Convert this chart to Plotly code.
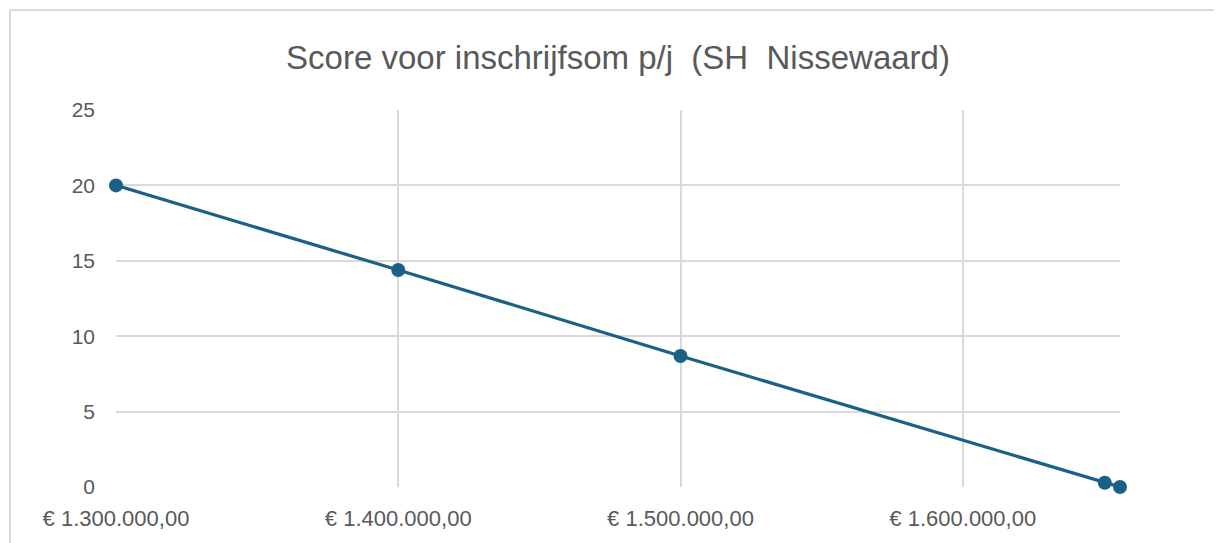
import plotly.graph_objects as go

prices = [1300000, 1400000, 1500000, 1650300, 1655700]
scores = [20, 14.39, 8.69, 0.28, 0]
x_tickvals = [1300000, 1400000, 1500000, 1600000]
x_ticktext = ["€ 1.300.000,00", "€ 1.400.000,00", "€ 1.500.000,00", "€ 1.600.000,00"]
y_tickvals = [0, 5, 10, 15, 20, 25]
title_text = "Score voor inschrijfsom p/j  (SH  Nissewaard)"

# page has an 8px body margin; figure sized to fill the remaining window
OFF = 8
W, H = 1222 - OFF, 543 - OFF
L, T = 116 - OFF, 110 - OFF
R, B = 1222 - 1120, 543 - 487
pw, ph = W - L - R, H - T - B

fig = go.Figure()
fig.add_trace(go.Scatter(
    x=prices, y=scores, mode="lines+markers",
    line=dict(color="#1A6188", width=3.2),
    marker=dict(color="#1A6188", size=14),
    cliponaxis=False, showlegend=False,
))

grid = "#D9D9D9"
text_col = "#595959"

# outer chart frame (left and top edges visible)
fx0 = (10 - OFF - L) / pw
fy1 = (H - B - (10 - OFF)) / ph
fig.add_shape(type="line", xref="paper", yref="paper", x0=fx0, x1=fx0, y0=-0.3, y1=fy1,
              line=dict(color=grid, width=2), layer="below")
fig.add_shape(type="line", xref="paper", yref="paper", x0=fx0, x1=1.3, y0=fy1, y1=fy1,
              line=dict(color=grid, width=2), layer="below")

fig.update_layout(
    width=W, height=H,
    margin=dict(l=L, r=R, t=T, b=B),
    plot_bgcolor="white", paper_bgcolor="white",
    title=dict(text=title_text, x=0.5, xref="paper", y=1 - 49 / H, yanchor="middle",
               font=dict(family="Liberation Sans, Arial, sans-serif", size=33, color=text_col)),
    font=dict(family="Liberation Sans, Arial, sans-serif", size=22, color=text_col),
)
fig.update_xaxes(
    range=[prices[0], prices[-1]], tickvals=x_tickvals, ticktext=x_ticktext,
    showgrid=True, gridcolor=grid, gridwidth=2, zeroline=False,
    showline=False, ticks="", ticklabelstandoff=16,
    tickfont=dict(size=22, color=text_col),
)
fig.update_yaxes(
    range=[0, 25], tickvals=y_tickvals,
    showgrid=True, gridcolor=grid, gridwidth=2, zeroline=False,
    showline=False, ticks="", ticklabelstandoff=20,
    tickfont=dict(size=21, color=text_col),
)

fig.write_html("out.html")
